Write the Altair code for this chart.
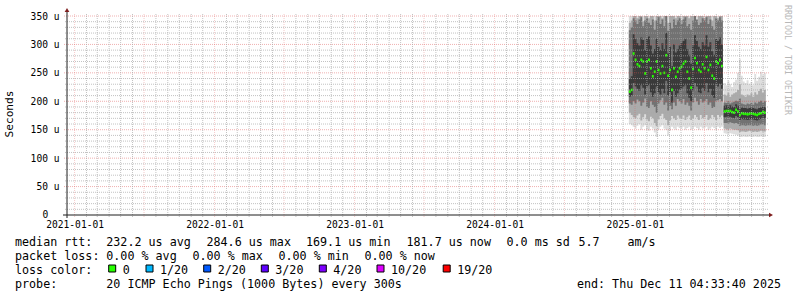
import altair as alt
import pandas as pd

# ---------------- values (microseconds) ----------------
Y_TICKS = [0, 50, 100, 150, 200, 250, 300, 350]
YEAR_LABELS = [2021, 2022, 2023, 2024, 2025]
STEP_DAYS = 5

# segment 1: Dec 2024 - Aug 2025
S1_START = "2024-12-16"
S1_MEDIAN = [217, 220, 284, 273, 265, 262, 273, 270, 249, 270,
             273, 258, 244, 252, 270, 255, 249, 262, 250, 281,
             245, 255, 220, 258, 243, 252, 258, 261, 266, 270,
             252, 240, 224, 257, 276, 267, 255, 252, 265, 258,
             278, 255, 264, 245, 240, 270, 267, 273, 262]
S1_MIN = [160, 158, 155, 152, 157, 160, 150, 155, 158, 150,
          148, 155, 152, 145, 137, 150, 155, 158, 152, 150,
          140, 148, 155, 152, 150, 155, 153, 152, 155, 150,
          153, 155, 150, 152, 155, 153, 150, 155, 152, 153,
          155, 150, 152, 155, 153, 150, 155, 153, 155]
S1_MAX = [350, 350, 350, 350, 350, 350, 350, 350, 350, 350,
          350, 350, 350, 350, 350, 350, 350, 350, 350, 350,
          350, 350, 350, 350, 350, 350, 350, 350, 350, 350,
          350, 350, 350, 350, 350, 350, 350, 350, 350, 350,
          350, 350, 350, 350, 350, 350, 350, 350, 350]
S1_B_LO = [180, 176, 172, 170, 175, 178, 166, 172, 177, 168,
           165, 173, 170, 162, 156, 168, 174, 178, 170, 167,
           158, 166, 174, 170, 167, 175, 171, 169, 175, 167,
           172, 175, 167, 170, 176, 172, 167, 176, 170, 172,
           176, 167, 170, 176, 172, 167, 176, 172, 175]
S1_B_HI = [338, 342, 350, 350, 346, 350, 350, 340, 350, 350,
           346, 350, 350, 342, 350, 350, 350, 346, 350, 350,
           338, 350, 350, 350, 346, 350, 350, 343, 350, 350,
           350, 346, 350, 350, 350, 340, 350, 350, 350, 346,
           350, 350, 350, 342, 350, 350, 346, 350, 350]
S1_C_LO = [196, 194, 200, 196, 203, 200, 192, 198, 205, 190,
           188, 200, 194, 190, 180, 196, 202, 206, 194, 198,
           184, 192, 186, 198, 192, 204, 200, 196, 204, 194,
           198, 192, 184, 198, 206, 200, 194, 204, 198, 200,
           204, 194, 198, 188, 190, 200, 202, 204, 200]
S1_C_HI = [325, 330, 346, 342, 336, 344, 348, 332, 342, 346,
           338, 334, 344, 326, 342, 348, 336, 344, 332, 350,
           324, 338, 328, 344, 334, 342, 346, 336, 344, 348,
           332, 336, 326, 342, 350, 344, 334, 338, 346, 342,
           348, 336, 344, 332, 326, 346, 342, 348, 342]
S1_D_LO = [208, 210, 232, 226, 222, 218, 228, 224, 212, 226,
           228, 216, 208, 214, 226, 216, 212, 222, 214, 236,
           210, 216, 198, 218, 208, 214, 220, 222, 226, 228,
           214, 206, 200, 218, 232, 226, 216, 214, 224, 218,
           232, 216, 222, 210, 206, 228, 226, 230, 222]
S1_D_HI = [240, 244, 318, 310, 302, 298, 312, 308, 290, 310,
           314, 298, 284, 292, 310, 296, 290, 302, 292, 320,
           284, 296, 262, 300, 286, 292, 298, 302, 306, 310,
           292, 282, 266, 298, 316, 306, 296, 292, 304, 298,
           316, 296, 304, 288, 282, 310, 306, 312, 300]

# segment 2: Aug 2025 - Dec 2025
S2_START = "2025-08-20"
S2_MEDIAN = [182, 183, 183, 183, 181, 180, 185, 182, 176, 179, 178,
             178, 177, 178, 179, 178, 177, 176, 178, 179, 181, 180]
S2_MIN = [144, 143, 142, 144, 143, 142, 141, 140, 137, 137, 138,
          137, 137, 138, 137, 137, 138, 137, 137, 138, 137, 137]
S2_MAX = [232, 228, 236, 230, 225, 234, 238, 250, 274, 245, 235,
          232, 237, 230, 234, 228, 248, 236, 243, 252, 246, 250]
S2_B_LO = [152, 151, 150, 152, 151, 150, 150, 149, 146, 147, 147,
           146, 147, 148, 147, 146, 147, 146, 147, 148, 147, 147]
S2_B_HI = [212, 210, 215, 208, 212, 214, 216, 220, 230, 212, 210,
           208, 212, 210, 214, 208, 216, 212, 218, 222, 215, 220]
S2_C_LO = [162, 162, 161, 163, 162, 161, 162, 160, 157, 158, 158,
           157, 158, 158, 158, 157, 158, 157, 158, 159, 159, 158]
S2_C_HI = [198, 197, 200, 196, 198, 199, 201, 200, 205, 196, 195,
           194, 196, 195, 197, 194, 198, 196, 199, 201, 198, 200]
S2_D_LO = [172, 173, 172, 173, 171, 170, 174, 172, 167, 169, 168,
           168, 167, 168, 169, 168, 167, 166, 168, 169, 171, 170]
S2_D_HI = [192, 193, 192, 193, 191, 190, 195, 192, 186, 189, 188,
           188, 187, 188, 189, 188, 187, 186, 188, 189, 191, 190]

LOSS_LABELS = ["0", "1/20", "2/20", "3/20", "4/20", "10/20", "19/20"]
LOSS_COLORS = ["#26ff00", "#00b8ff", "#0059ff", "#5e00ff", "#7e00ff", "#dd00ff", "#ff0000"]

# ---------------- build tables ----------------
SEGMENTS = [
    dict(start=S1_START, med=S1_MEDIAN, a_lo=S1_MIN, a_hi=S1_MAX, b_lo=S1_B_LO, b_hi=S1_B_HI,
         c_lo=S1_C_LO, c_hi=S1_C_HI, d_lo=S1_D_LO, d_hi=S1_D_HI),
    dict(start=S2_START, med=S2_MEDIAN, a_lo=S2_MIN, a_hi=S2_MAX, b_lo=S2_B_LO, b_hi=S2_B_HI,
         c_lo=S2_C_LO, c_hi=S2_C_HI, d_lo=S2_D_LO, d_hi=S2_D_HI),
]
KEYS = ["a_lo", "a_hi", "b_lo", "b_hi", "c_lo", "c_hi", "d_lo", "d_hi"]
area_rows, med_rows = [], []
for k, s in enumerate(SEGMENTS):
    n = len(s["med"])
    times = pd.date_range(s["start"], periods=n + 1, freq=f"{STEP_DAYS}D")
    for i in range(n + 1):
        j = min(i, n - 1)
        row = {"seg": k, "t": times[i]}
        row.update({key: s[key][j] for key in KEYS})
        area_rows.append(row)
    for i in range(n):
        med_rows.append({"t": times[i], "t2": times[i + 1], "med": s["med"][i]})
area_df = pd.DataFrame(area_rows)
med_df = pd.DataFrame(med_rows)

months = pd.date_range("2021-01-01", "2025-12-01", freq="MS")
vminor = pd.DataFrame({"t": [m for m in months if m.month not in (1, 7)]})
vmajor = pd.DataFrame({"t": [m for m in months if m.month in (1, 7)]})
hminor = pd.DataFrame({"v": [v for v in range(10, 350, 10) if v % 50]})
hmajor = pd.DataFrame({"v": [v for v in range(50, 351, 50)]})
one = pd.DataFrame({"k": [0]})

MONO = "DejaVu Sans Mono"
W, H = 700, 199
OX, OY = 67, 16  # plot origin inside the page

xscale = alt.Scale(domain=[alt.DateTime(year=2020, month=12, date=12, hours=4, minutes=33, seconds=40),
                           alt.DateTime(year=2025, month=12, date=11, hours=4, minutes=33, seconds=40)])
yscale = alt.Scale(domain=[0, 350])

xaxis = alt.Axis(values=[alt.DateTime(year=y, month=1, date=1) for y in YEAR_LABELS],
                 format="%Y-%m-%d", domain=False, ticks=False, grid=False, title=None,
                 labelFont=MONO, labelFontSize=9.6, labelColor="#000", labelPadding=4,
                 labelFlush=False, labelOverlap=False)
yaxis = alt.Axis(values=[v for v in Y_TICKS if v > 0],
                 labelExpr="datum.value + ' u'",
                 domain=False, ticks=False, grid=False, title=None,
                 labelFont=MONO, labelFontSize=9.6, labelColor="#000", labelPadding=8,
                 labelOverlap=False)

def X(field="t:T"):
    return alt.X(field, scale=xscale, axis=xaxis)

def Y(field):
    return alt.Y(field, scale=yscale, axis=yaxis)

base = alt.Chart(area_df)
SMOKE = [("a", "#dedede"), ("b", "#ababab"), ("c", "#727272"), ("d", "#3a3a3a")]
layers = []
for p, col in SMOKE:
    layers.append(base.mark_area(interpolate="step-after", color=col, clip=True).encode(
        x=X(), y=Y(f"{p}_hi:Q"), y2=alt.Y2(f"{p}_lo:Q"), detail="seg:N"))

median = alt.Chart(med_df).mark_rule(color="#26ff00", strokeWidth=2.6, strokeCap="butt").encode(
    x=X(), x2="t2:T", y=Y("med:Q"))

GRID = dict(color="#a8a8a8", strokeOpacity=0.7, strokeDash=[1, 1], strokeWidth=1)
MGRID = dict(color="#de5050", strokeOpacity=0.45, strokeDash=[1, 1], strokeWidth=1)
VMGRID = dict(color="#de5050", strokeOpacity=0.3, strokeDash=[1, 1], strokeWidth=1)
g_hmin = alt.Chart(hminor).mark_rule(**GRID).encode(
    y=Y("v:Q"), x=alt.value(-2), x2=alt.value(W + 2))
g_hmaj = alt.Chart(hmajor).mark_rule(**MGRID).encode(
    y=Y("v:Q"), x=alt.value(-3), x2=alt.value(W + 2))
g_vmin = alt.Chart(vminor).mark_rule(**GRID).encode(
    x=X(), y=alt.value(-2), y2=alt.value(H + 2))
g_vmaj = alt.Chart(vmajor).mark_rule(**VMGRID).encode(
    x=X(), y=alt.value(-2), y2=alt.value(H + 3))

c1 = alt.Chart(one)
axis_x = c1.mark_rule(color="#1f1f1f", strokeWidth=1).encode(
    x=alt.value(-4), x2=alt.value(W + 4), y=alt.value(H))
axis_y = c1.mark_rule(color="#1f1f1f", strokeWidth=1).encode(
    x=alt.value(0), y=alt.value(-5), y2=alt.value(H + 3))
arrow_up = c1.mark_point(shape="triangle-up", filled=True, color="#7f1f1f", size=22, opacity=1).encode(
    x=alt.value(0), y=alt.value(-6))
arrow_right = c1.mark_point(shape="triangle-right", filled=True, color="#7f1f1f", size=22, opacity=1).encode(
    x=alt.value(W + 4), y=alt.value(H))

def txt(s, ax, ay, size=11.7, align="left", color="#000", angle=None, font=MONO):
    kw = dict(text=s, font=font, fontSize=size, align=align, baseline="middle", color=color)
    if angle is not None:
        kw["angle"] = angle
    return c1.mark_text(**kw).encode(x=alt.value(ax - OX), y=alt.value(ay - OY))

texts = [
    txt("Seconds", 10, 114, size=11.2, align="center", angle=270),
    txt("RRDTOOL / TOBI OETIKER", 787, 60, size=8.3, align="center", angle=90, color="#b8b8b8"),
    txt("0", 42.5, 215, size=9.6),
]
L1, L2, L3, L4 = 241.5, 255.5, 269.5, 283.5
for s, x in [("median rtt:", 15), ("232.2 us avg", 106.3), ("284.6 us max", 206.5),
             ("169.1 us min", 306), ("181.7 us now", 406.5), ("0.0 ms sd", 506.5),
             ("5.7", 578.5), ("am/s", 627.5)]:
    texts.append(txt(s, x, L1))
for s, x in [("packet loss:", 15), ("0.00 % avg", 106.3), ("0.00 % max", 192.5),
             ("0.00 % min", 278.5), ("0.00 % now", 364.5)]:
    texts.append(txt(s, x, L2))
texts.append(txt("loss color:", 15, L3))
BOX_X = [112.2, 149.5, 207.2, 264.8, 322.8, 380.5, 446.7]
for lab, col, bx in zip(LOSS_LABELS, LOSS_COLORS, BOX_X):
    texts.append(c1.mark_square(size=49, color=col, fill=col, opacity=1, stroke="#000", strokeWidth=1)
                 .encode(x=alt.value(bx - OX), y=alt.value(L3 - 1 - OY)))
    texts.append(txt(lab, bx + 10.5, L3))
texts.append(txt("probe:", 15, L4))
texts.append(txt("20 ICMP Echo Pings (1000 Bytes) every 300s", 106.3, L4))
texts.append(txt("end: Thu Dec 11 04:33:40 2025", 781, L4, align="right"))

chart = alt.layer(
    *layers, median, g_hmin, g_hmaj, g_vmin, g_vmaj, axis_x, axis_y, arrow_up, arrow_right, *texts
).properties(
    width=W, height=H,
    autosize=alt.AutoSizeParams(type="none"),
    padding={"left": OX, "top": OY, "right": 797 - OX - W, "bottom": 297 - OY - H},
    background="#ffffff",
).configure_view(stroke=None)

chart.save("out.html", embed_options={"renderer": "svg", "actions": False})
